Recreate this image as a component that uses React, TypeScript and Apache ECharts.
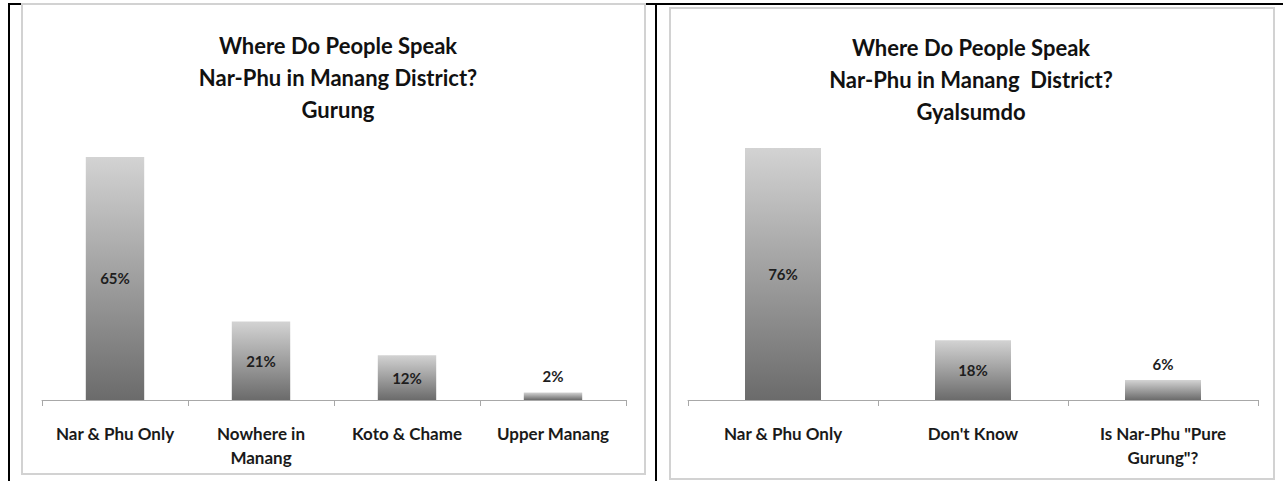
import React, { useEffect, useRef } from "react";
import * as echarts from "echarts";

const gurungTitle = ["Where Do People Speak", "Nar-Phu in Manang District?", "Gurung"];
const gurungCategories = ["Nar & Phu Only", "Nowhere in\nManang", "Koto & Chame", "Upper Manang"];
const gurungValues = [65, 21, 12, 2];

const gyalsumdoTitle = ["Where Do People Speak", "Nar-Phu in Manang  District?", "Gyalsumdo"];
const gyalsumdoCategories = ["Nar & Phu Only", "Don't Know", "Is Nar-Phu \"Pure\nGurung\"?"];
const gyalsumdoValues = [76, 18, 6];

const FONT = "Lato, 'Open Sans', 'DejaVu Sans', sans-serif";

function barGradient() {
  return new echarts.graphic.LinearGradient(0, 0, 0, 1, [
    { offset: 0, color: "#d3d3d3" },
    { offset: 1, color: "#6b6b6b" },
  ]);
}

function makeData(values: number[]) {
  return values.map((v) => ({
    value: v,
    label: { position: v < 10 ? "top" : "inside", distance: 9 },
  }));
}

function xAxisOf(categories: string[], gridIndex: number) {
  return {
    type: "category",
    gridIndex,
    data: categories,
    z: 5,
    axisLine: { show: true, lineStyle: { color: "#a8a8a8", width: 1 } },
    axisTick: { show: true, length: 6, lineStyle: { color: "#a8a8a8" } },
    axisLabel: {
      interval: 0,
      margin: 21,
      fontSize: 17,
      lineHeight: 24,
      fontFamily: FONT,
      color: "#1a1a1a",
      fontWeight: "bold",
    },
    splitLine: { show: false },
  };
}

function seriesOf(values: number[], idx: number) {
  return {
    type: "bar",
    xAxisIndex: idx,
    yAxisIndex: idx,
    barWidth: "40%",
    z: 6,
    data: makeData(values),
    itemStyle: { color: barGradient() },
    label: {
      show: true,
      formatter: "{c}%",
      fontSize: 15,
      fontWeight: "bold",
      fontFamily: FONT,
      color: "#1e1e1e",
    },
  };
}

export default function App() {
  const ref = useRef<HTMLDivElement>(null);

  useEffect(() => {
    if (!ref.current) return;
    const chart = echarts.init(ref.current, undefined, { renderer: "svg" });
    const titleStyle = {
      fontSize: 22,
      lineHeight: 32,
      fontWeight: "bold",
      fontFamily: FONT,
      color: "#111",
    };
    chart.setOption({
      animation: false,
      backgroundColor: "#fff",
      title: [
        { text: gurungTitle.join("\n"), left: 338, top: 29, padding: 0, textAlign: "center", textStyle: titleStyle, z: 6 },
        { text: gyalsumdoTitle.join("\n"), left: 971, top: 31, padding: 0, textAlign: "center", textStyle: titleStyle, z: 6 },
      ],
      graphic: {
        elements: [
          { type: "rect", z: -20, shape: { x: 8, y: 3, width: 1275, height: 2 }, style: { fill: "#000" } },
          { type: "rect", z: -20, shape: { x: 8, y: 3, width: 2, height: 478 }, style: { fill: "#000" } },
          { type: "rect", z: -20, shape: { x: 655, y: 3, width: 2, height: 478 }, style: { fill: "#000" } },
          { type: "rect", z: -10, shape: { x: 22, y: 4, width: 623, height: 470 }, style: { fill: "#fff", stroke: "#d2d2d2", lineWidth: 2 } },
          { type: "rect", z: -10, shape: { x: 670, y: 8, width: 604, height: 471 }, style: { fill: "#fff", stroke: "#d2d2d2", lineWidth: 2 } },
        ],
      },
      grid: [
        { left: 42, width: 584, top: 138.3, bottom: 81, containLabel: false },
        { left: 688, width: 570, top: 134.7, bottom: 81, containLabel: false },
      ],
      xAxis: [xAxisOf(gurungCategories, 0), xAxisOf(gyalsumdoCategories, 1)],
      yAxis: [
        { type: "value", gridIndex: 0, min: 0, max: 70, show: false, splitLine: { show: false } },
        { type: "value", gridIndex: 1, min: 0, max: 80, show: false, splitLine: { show: false } },
      ],
      series: [seriesOf(gurungValues, 0), seriesOf(gyalsumdoValues, 1)],
    });
    return () => chart.dispose();
  }, []);

  return (
    <div
      ref={ref}
      style={{ position: "absolute", left: 0, top: 0, width: 1283, height: 481 }}
    />
  );
}
